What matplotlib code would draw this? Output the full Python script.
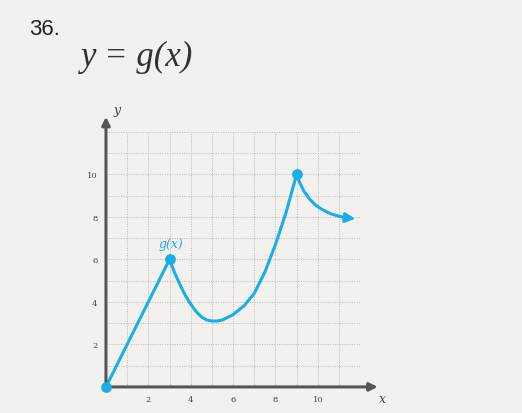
import matplotlib
matplotlib.use("Agg")
import matplotlib.pyplot as plt

xs = [0, 3, 3.25, 3.5, 3.75, 4, 4.25, 4.5, 4.75, 5, 5.25, 5.5, 6, 6.5, 7, 7.5, 8, 8.5, 9, 9.15, 9.35, 9.6, 9.9, 10.2, 10.6, 11.0, 11.4, 11.9]
ys = [0, 6, 5.35, 4.8, 4.3, 3.9, 3.55, 3.3, 3.15, 3.1, 3.1, 3.15, 3.4, 3.8, 4.4, 5.4, 6.7, 8.2, 10, 9.6, 9.2, 8.85, 8.55, 8.35, 8.15, 8.03, 7.95, 7.9]
dot_x = [0, 3, 9]
dot_y = [0, 6, 10]
ticks = [2, 4, 6, 8, 10]

blue = "#1aaee8"
bg = "#f2f1ed"
fig = plt.figure(figsize=(5.22, 4.14), dpi=100, facecolor=bg)
ax = fig.add_axes([0.203, 0.063, 0.487, 0.616], facecolor=bg)
ax.set_xlim(0, 12)
ax.set_ylim(0, 12)
for v in range(1, 13):
    ax.axvline(v, color="#b8b8b8", lw=0.7, ls=(0, (1, 1.5)))
    ax.axhline(v, color="#b8b8b8", lw=0.7, ls=(0, (1, 1.5)))
for s in ax.spines.values():
    s.set_visible(False)
ax.annotate("", xy=(1.08, 0), xytext=(0, 0), xycoords="axes fraction",
            arrowprops=dict(arrowstyle="-|>", color="#555555", lw=2.2, mutation_scale=12), annotation_clip=False)
ax.annotate("", xy=(0, 1.07), xytext=(0, 0), xycoords="axes fraction",
            arrowprops=dict(arrowstyle="-|>", color="#555555", lw=2.2, mutation_scale=12), annotation_clip=False)
ax.plot(xs[:-1], ys[:-1], color=blue, lw=2.2, clip_on=False, solid_capstyle="round", solid_joinstyle="round")
ax.annotate("", xy=(xs[-1], ys[-1]), xytext=(xs[-2], ys[-2]),
            arrowprops=dict(arrowstyle="-|>", color=blue, lw=2.2, mutation_scale=14), annotation_clip=False)
ax.scatter(dot_x, dot_y, s=45, color=blue, zorder=5, clip_on=False)
ax.set_xticks(ticks)
ax.set_yticks(ticks)
ax.set_xticklabels([str(t) for t in ticks], fontsize=6, family="DejaVu Serif", color="#444444")
ax.set_yticklabels([str(t) for t in ticks], fontsize=6, family="DejaVu Serif", color="#444444")
ax.tick_params(length=0, pad=6)
ax.text(12.9, -0.7, "x", fontsize=9, family="DejaVu Serif", style="italic", color="#444444", clip_on=False)
ax.text(0.35, 12.9, "y", fontsize=9, family="DejaVu Serif", style="italic", color="#444444", clip_on=False)
ax.text(2.5, 6.6, "g(x)", fontsize=9, family="DejaVu Serif", style="italic", color=blue)
fig.text(0.055, 0.915, "36.", fontsize=16, family="Liberation Sans", color="#222222")
fig.text(0.155, 0.84, "y = g(x)", fontsize=25, family="Liberation Serif", style="italic", color="#333333")
fig.savefig("out.png", dpi=100, facecolor=bg)
